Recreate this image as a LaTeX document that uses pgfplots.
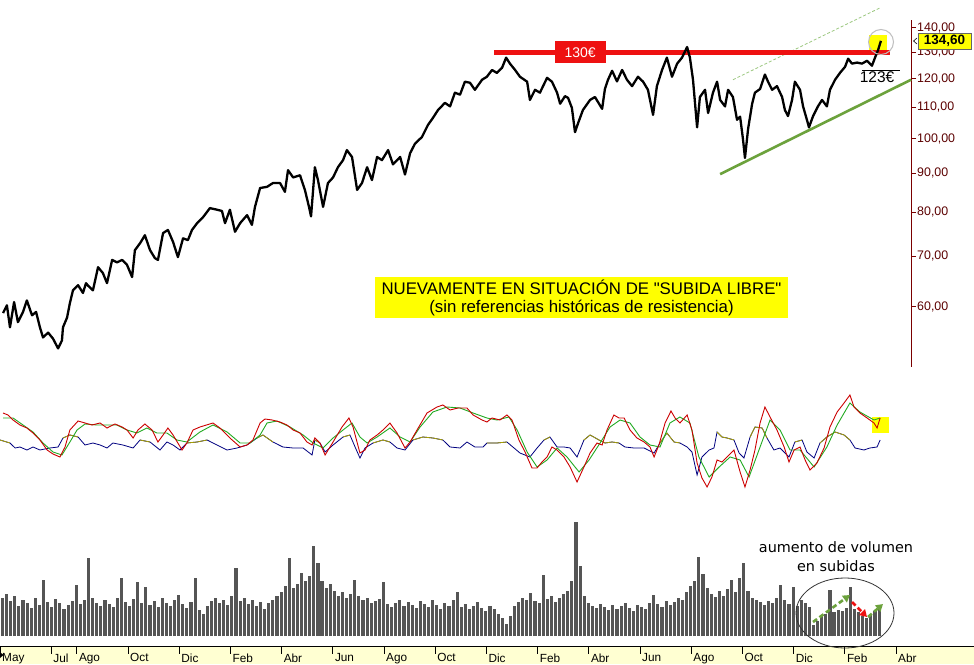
\documentclass[border=0pt]{standalone}
\usepackage{pgfplots}
\pgfplotsset{compat=1.18}
\usepackage{pgfplotstable}
\usepackage{fontspec}
\setmainfont{Liberation Sans}
\newfontfamily\boxfont{Liberation Sans}[Ligatures=TeXOff]
\newfontfamily\dejavu{DejaVu Sans}
\usetikzlibrary{arrows.meta}

\definecolor{axred}{HTML}{7A0000}
\definecolor{tickred}{HTML}{5C0000}
\definecolor{resred}{HTML}{EE1111}
\definecolor{supgreen}{HTML}{6CA23C}
\definecolor{chgreen}{HTML}{9CC880}
\definecolor{oscred}{HTML}{CC0000}
\definecolor{oscgreen}{HTML}{22AA22}
\definecolor{oscolive}{HTML}{A8A000}
\definecolor{oscnavy}{HTML}{000080}
\definecolor{volgray}{HTML}{555555}
\definecolor{strip}{HTML}{FFFFD2}
\definecolor{hilite}{HTML}{FFFF00}

% price: x = months since start of May (year 1), y = price in EUR
\pgfplotstableread{
m p
0.12 58.9
0.27 60.3
0.39 56.4
0.55 60.9
0.70 57.3
0.90 59.1
1.05 61.2
1.25 58.5
1.41 59.1
1.56 56.4
1.68 54.7
1.88 55.5
2.07 54.5
2.27 52.9
2.42 54.2
2.46 56.4
2.62 58.1
2.73 60.7
2.85 63.1
3.05 64.1
3.24 62.6
3.36 64.5
3.44 64.0
3.63 63.1
3.83 67.7
4.02 66.5
4.18 64.5
4.38 69.2
4.57 68.7
4.77 69.2
4.96 68.2
5.16 65.7
5.27 71.3
5.47 72.8
5.66 74.6
5.86 71.3
6.05 69.6
6.17 69.2
6.37 75.1
6.56 75.8
6.76 73.1
6.95 69.8
7.15 73.9
7.34 73.5
7.50 75.8
7.70 77.4
7.93 78.8
8.20 81.0
8.48 80.6
8.67 80.3
8.79 77.4
8.98 80.6
9.18 75.4
9.38 77.4
9.65 79.3
9.84 77.0
9.96 81.3
10.16 86.1
10.43 86.4
10.66 87.4
10.94 87.4
11.13 85.1
11.25 90.9
11.45 88.9
11.72 89.5
11.91 85.6
12.07 81.3
12.15 79.0
12.30 91.7
12.42 88.2
12.62 81.3
12.81 87.4
13.01 88.9
13.20 91.7
13.40 93.7
13.55 96.6
13.75 94.6
13.95 85.6
14.14 87.4
14.34 91.7
14.53 88.2
14.73 94.6
14.92 93.7
15.16 96.6
15.35 92.5
15.63 94.6
15.82 89.7
16.02 95.7
16.21 98.5
16.48 100.5
16.72 104.3
16.91 106.5
17.11 109.1
17.38 111.5
17.58 110.3
17.77 115.0
17.97 114.3
18.16 118.9
18.36 118.5
18.55 116.0
18.83 119.6
19.02 120.7
19.22 123.2
19.41 122.1
19.61 124.0
19.77 127.9
19.92 125.6
20.12 123.2
20.31 120.7
20.59 118.9
20.70 112.5
20.90 116.0
21.09 115.0
21.37 120.3
21.56 118.9
21.76 115.0
21.88 111.2
22.07 113.8
22.19 113.2
22.34 109.8
22.46 102.0
22.58 104.8
22.77 109.1
23.05 112.5
23.24 113.5
23.52 109.5
23.63 116.3
23.75 119.6
23.91 122.9
24.10 119.0
24.30 123.2
24.49 119.6
24.69 117.3
24.92 120.7
25.12 118.9
25.31 116.0
25.51 107.5
25.66 117.3
25.86 123.2
26.05 127.9
26.25 120.7
26.45 125.6
26.64 127.9
26.84 132.1
26.95 127.9
27.07 119.6
27.23 103.5
27.34 113.5
27.54 116.0
27.66 108.1
27.85 115.0
28.01 118.9
28.13 112.5
28.32 110.3
28.44 116.0
28.63 113.5
28.79 105.9
28.91 106.9
29.02 100.0
29.10 94.3
29.22 102.9
29.38 111.2
29.49 115.0
29.69 116.3
29.88 121.5
30.00 118.9
30.16 116.0
30.35 117.3
30.55 113.5
30.66 109.1
30.78 107.1
30.94 112.5
31.05 118.9
31.25 116.0
31.37 110.3
31.52 105.9
31.60 103.5
31.76 107.1
31.95 110.3
32.11 112.5
32.30 110.3
32.42 116.0
32.62 119.6
32.81 122.1
33.01 124.4
33.13 127.5
33.28 125.6
33.48 126.0
33.67 125.6
33.87 126.7
34.06 124.8
34.18 127.9
34.30 130.9
34.41 134.6
}\price

% oscillator, fast line (0-100)
\pgfplotstableread{
m v
0.12 77
0.31 75
0.51 70
0.78 65
1.05 62
1.29 57
1.56 50
1.84 40
2.07 36
2.34 33
2.54 43
2.73 60
3.05 69
3.32 67
3.59 65
3.91 67
4.18 62
4.49 66
4.77 63
4.96 60
5.20 52
5.39 60
5.66 66
5.94 60
6.17 48
6.37 55
6.56 62
6.76 55
7.11 40
7.30 47
7.54 60
7.81 63
8.32 67
8.59 62
8.98 52
9.38 43
9.65 45
9.88 50
10.16 67
10.35 71
10.63 70
10.94 68
11.21 65
11.45 60
11.72 57
11.99 48
12.19 45
12.30 52
12.50 47
12.70 35
13.01 48
13.36 63
13.63 72
13.79 63
14.06 37
14.26 40
14.45 50
14.73 55
14.96 60
15.23 67
15.51 57
15.82 42
16.02 48
16.29 60
16.68 77
17.07 83
17.30 85
17.58 80
17.89 82
18.24 82
18.48 75
18.83 70
19.02 68
19.22 72
19.53 70
19.80 75
20.00 70
20.27 50
20.51 38
20.78 22
20.98 22
21.17 28
21.37 33
21.56 43
21.76 40
22.03 33
22.27 23
22.54 8
22.81 23
23.05 37
23.32 47
23.52 45
23.71 60
23.98 75
24.18 72
24.38 72
24.61 60
24.88 52
25.16 48
25.39 43
25.55 33
25.74 45
25.98 67
26.21 79
26.37 72
26.56 67
26.84 75
27.03 60
27.23 27
27.42 12
27.62 3
27.81 13
28.01 30
28.20 28
28.40 33
28.67 40
28.91 18
29.10 3
29.30 20
29.49 40
29.69 67
29.88 83
30.08 73
30.35 60
30.63 43
30.82 28
31.02 40
31.25 43
31.45 30
31.64 20
31.91 27
32.19 42
32.42 63
32.70 78
32.97 87
33.20 95
33.36 83
33.59 77
33.87 72
34.14 67
34.26 62
34.38 72
}\oscfast

% oscillator, slow line
\pgfplotstableread{
m v
0.12 72
0.51 72
0.90 65
1.29 58
1.68 47
2.07 38
2.42 35
2.73 48
3.01 60
3.32 66
3.79 65
4.18 65
4.57 65
4.96 60
5.35 57
5.74 62
6.13 57
6.52 57
6.91 50
7.30 48
7.81 58
8.32 65
8.87 58
9.38 47
9.77 47
10.16 55
10.43 67
10.82 69
11.33 63
11.84 55
12.23 47
12.62 42
13.01 52
13.40 60
13.75 67
14.06 53
14.34 47
14.73 53
15.23 62
15.63 53
16.02 48
16.41 63
16.91 78
17.46 83
17.97 82
18.48 77
19.02 72
19.41 70
19.88 73
20.20 60
20.59 38
20.98 23
21.37 30
21.76 42
22.15 33
22.62 18
23.01 30
23.44 47
23.83 63
24.22 70
24.61 67
25.00 53
25.39 45
25.78 43
26.17 67
26.56 73
26.95 67
27.30 33
27.70 13
28.09 23
28.52 33
28.91 30
29.26 13
29.69 43
30.08 70
30.47 60
30.86 40
31.25 40
31.80 23
32.30 43
32.70 65
33.20 87
33.59 78
34.14 70
34.38 72
}\oscslow

% third indicator line (olive above 46, navy below)
\pgfplotstableread{
m v
0.00 50
0.39 47
0.59 42
0.78 43
1.05 40
1.29 43
1.56 40
1.95 42
2.27 43
2.46 52
2.73 55
3.05 53
3.32 45
3.63 47
3.91 45
4.18 42
4.41 47
4.80 45
5.20 42
5.47 50
5.86 48
6.25 40
6.52 48
6.76 45
7.03 40
7.30 47
7.70 48
8.09 50
8.48 45
8.87 40
9.26 42
9.65 45
10.04 52
10.27 55
10.66 48
11.05 43
11.45 42
11.84 42
12.19 35
12.30 50
12.50 47
12.70 38
13.01 45
13.40 53
13.67 55
13.87 43
14.06 32
14.26 42
14.57 47
14.96 50
15.23 48
15.51 42
15.82 40
16.13 50
16.52 53
16.91 52
17.30 50
17.58 43
17.97 42
18.24 48
18.55 43
18.87 43
19.02 47
19.41 47
19.80 48
20.08 42
20.31 37
20.70 33
20.98 42
21.25 50
21.48 53
21.76 43
22.03 43
22.27 42
22.54 33
22.81 50
23.05 55
23.40 50
23.63 47
23.91 48
24.18 47
24.41 43
24.77 42
25.16 42
25.55 37
25.78 47
26.05 57
26.33 48
26.56 47
26.84 43
27.03 38
27.23 15
27.42 33
27.70 40
27.89 42
28.01 58
28.20 53
28.40 52
28.67 50
28.87 37
29.06 32
29.30 53
29.49 63
29.77 62
29.96 52
30.23 40
30.47 42
30.82 33
31.05 48
31.33 50
31.52 38
31.80 32
32.03 47
32.30 53
32.62 58
32.97 55
33.20 50
33.40 42
33.75 40
33.98 42
34.26 43
34.38 50
}\oscthird

% volume, one value per bar (in order)
\pgfplotstableread{
v
38
42
35
40
30
36
33
28
38
31
56
34
29
37
33
27
31
35
51
32
36
78
38
33
30
36
32
29
38
58
34
30
37
54
33
49
31
35
29
38
33
30
36
41
32
28
34
58
26
22
30
35
38
33
36
31
40
68
35
38
32
36
30
34
27
33
36
40
44
50
78
48
52
63
55
60
90
73
55
48
52
45
40
44
38
42
56
40
36
38
33
35
37
54
32
29
33
36
30
34
31
28
35
32
29
36
31
27
33
30
36
44
29
32
27
30
34
28
25
30
27
22
18
12
20
30
34
38
36
43
35
33
61
37
40
34
38
42
45
55
114
70
40
33
30
28
32
29
26
31
27
30
33
28
25
31
29
27
33
41
32
29
35
31
34
38
36
44
50
55
79
62
48
42
39
45
40
47
56
44
58
73
45
38
36
34
31
35
33
38
51
36
32
49
30
36
33
29
11
15
20
22
46
24
26
25
28
49
27
24
20
18
22
25
28
}\volume

\begin{document}
\begin{tikzpicture}
\useasboundingbox (0pt,0pt) rectangle (974pt,664pt);
\fill[white] (0pt,0pt) rectangle (974pt,664pt);
% date strip
\fill[strip] (0pt,0pt) rectangle (974pt,18pt);
\draw[black, line width=0.8pt] (0pt,18pt) -- (974pt,18pt);
\fill[black] (0pt,6pt) -- (3.5pt,9pt) -- (0pt,12pt) -- cycle;

% highlights behind the data
\fill[hilite] (869pt,614pt) rectangle (887pt,629pt);
\fill[hilite] (872pt,231pt) rectangle (889pt,247pt);

% ---------------- price panel ----------------
\begin{axis}[at={(0pt,297pt)}, anchor=south west, width=911pt, height=347pt,
  scale only axis, clip=false,
  xmin=0, xmax=35.586, ymode=log, ymin=50, ymax=143.4,
  separate axis lines,
  x axis line style={draw=none}, y axis line style={draw=none},
  xtick=\empty, ytick pos=right,
  ytick={60,70,80,90,100,110,120,130,140},
  yticklabels={{60,00},{70,00},{80,00},{90,00},{100,00},{110,00},{120,00},{130,00},{140,00}},
  tick align=outside, major tick length=5pt,
  ytick style={axred, line width=1pt},
  yticklabel style={anchor=west, inner sep=1pt, text=tickred, font=\fontsize{12.4}{14}\selectfont}]
\draw[axred, line width=1pt] (rel axis cs:1,0) -- (rel axis cs:1,1);
\draw[supgreen, line width=2.6pt] (axis cs:28.13,89.8) -- (axis cs:35.586,119.6);
\draw[chgreen, line width=0.8pt, dash pattern=on 3pt off 2pt] (axis cs:28.63,119.6) -- (axis cs:34.38,148.8);
\draw[resred, line width=5pt] (axis cs:19.30,130) -- (axis cs:34.77,130);
\node[fill=resred, text=white, minimum width=51pt, minimum height=22pt, inner sep=0pt,
  font=\fontsize{14}{16}\selectfont] at (axis cs:22.66,130) {130€};
\addplot[black, line width=2.3pt, line join=round] table[x=m, y=p] {\price};
\draw[black, line width=0.8pt] (axis cs:33.67,123.2) -- (axis cs:35.16,123.2);
\node[anchor=north, inner sep=1pt, font=\fontsize{15.5}{17}\selectfont] at (axis cs:34.26,123.2) {123€};
\end{axis}

\draw[black!25, line width=1pt] (881pt,622pt) circle[radius=12.5pt];

% ---------------- oscillator panel ----------------
\begin{axis}[at={(0pt,174pt)}, anchor=south west, width=911pt, height=100pt,
  scale only axis, hide axis, clip=false,
  xmin=0, xmax=35.586, ymin=0, ymax=100]
\addplot[oscnavy, line width=0.8pt] table[x=m, y=v] {\oscthird};
\addplot[oscolive, line width=0.8pt, restrict y to domain=46:100, unbounded coords=jump] table[x=m, y=v] {\oscthird};
\addplot[oscgreen, line width=0.9pt] table[x=m, y=v] {\oscslow};
\addplot[oscred, line width=0.9pt] table[x=m, y=v] {\oscfast};
\end{axis}

% ---------------- volume panel ----------------
\begin{axis}[at={(0pt,28pt)}, anchor=south west, width=911pt, height=121pt,
  scale only axis, hide axis,
  xmin=-0.625, xmax=221.79, ymin=0, ymax=121]
\addplot[ycomb, volgray, line width=3.1pt] table[x expr=\coordindex, y=v] {\volume};
\end{axis}

% ---------------- date strip axis ----------------
\begin{axis}[at={(0pt,0pt)}, anchor=south west, width=911pt, height=18pt,
  scale only axis, xmin=0, xmax=35.586, ymin=0, ymax=1,
  axis x line*=top, axis y line=none,
  x axis line style={black, line width=0.8pt, -},
  ytick=\empty,
  xtick={0,2,3,5,7,9,11,13,15,17,19,21,23,25,27,29,31,33,35},
  xticklabels={May,Jul,Ago,Oct,Dic,Feb,Abr,Jun,Ago,Oct,Dic,Feb,Abr,Jun,Ago,Oct,Dic,Feb,Abr},
  tick align=inside, major tick length=8pt,
  xtick style={draw=black, line width=0.8pt},
  xticklabel style={anchor=north west, inner sep=0pt, xshift=2pt, yshift=-7.5pt,
    font=\fontsize{11.8}{13}\selectfont}]
\addplot[draw=none] coordinates {(1,0.5)};
\end{axis}

% ---------------- annotations ----------------
\node[fill=hilite, minimum width=413pt, minimum height=41pt, inner sep=0pt, align=center,
  font=\boxfont\fontsize{16.8}{18}\selectfont] at (581.5pt,366.5pt)
  {NUEVAMENTE EN SITUACIÓN DE "SUBIDA LIBRE"\\(sin referencias históricas de resistencia)};

\node[fill=hilite, draw=black!60, line width=0.4pt, minimum width=53pt, minimum height=16pt,
  inner sep=0pt, font=\bfseries\fontsize{13.5}{15}\selectfont] at (944.5pt,623pt) {134,60};
\draw[black, line width=0.6pt] (917pt,626pt) -- (913.5pt,623pt) -- (917pt,620pt);

\node[font=\dejavu\fontsize{14.4}{16}\selectfont] at (836pt,117pt) {aumento de volumen};
\node[font=\dejavu\fontsize{14.4}{16}\selectfont] at (836pt,98pt) {en subidas};
\draw[black!80, line width=0.8pt] (845pt,51pt) ellipse [x radius=49pt, y radius=35pt];
\draw[supgreen, line width=2.6pt, dash pattern=on 5pt off 3pt, -{Triangle[length=7pt,width=8pt]}] (813pt,42pt) -- (850pt,69pt);
\draw[resred, line width=2.6pt, dash pattern=on 5pt off 3pt, -{Triangle[length=7pt,width=8pt]}] (852pt,62pt) -- (867pt,47pt);
\draw[supgreen, line width=2.6pt, dash pattern=on 5pt off 3pt, -{Triangle[length=7pt,width=8pt]}] (868pt,47pt) -- (883pt,60pt);
\end{tikzpicture}
\end{document}
